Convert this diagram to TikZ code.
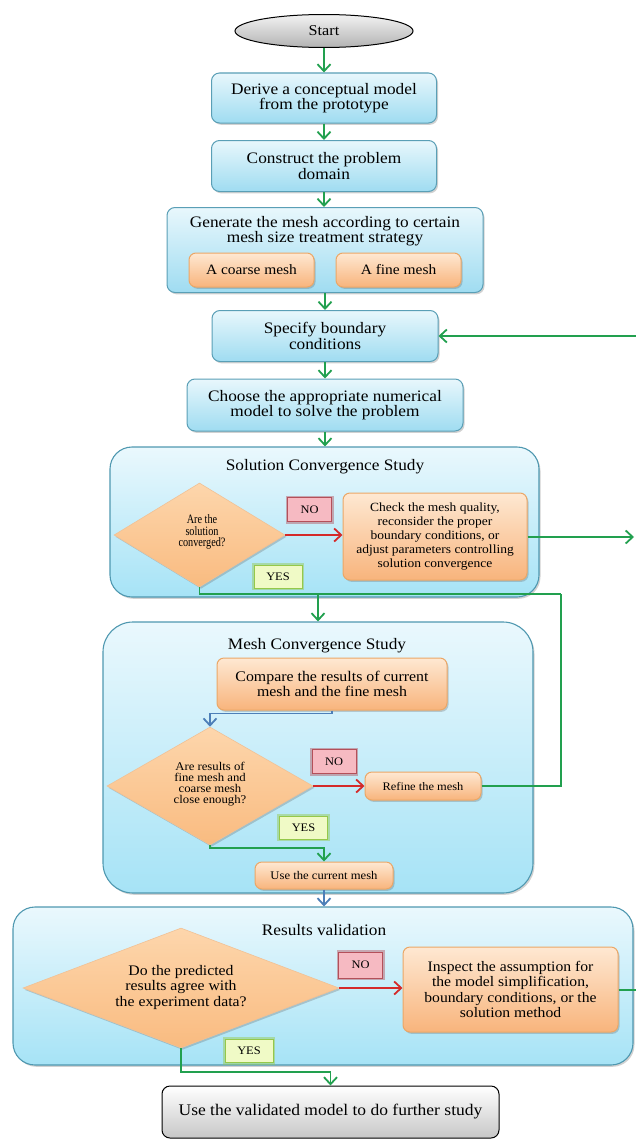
\documentclass[tikz,border=0pt]{standalone}
\usepackage{fontspec}
\setmainfont{Liberation Serif}[FakeStretch=1.08]
\newfontfamily\narrowserif{Liberation Serif}[FakeStretch=0.8]
\usetikzlibrary{shapes.geometric,arrows.meta,shadows}

\definecolor{boxTop}{HTML}{E8F7FC}
\definecolor{boxBot}{HTML}{9FDCF1}
\definecolor{boxEdge}{HTML}{5A9FB6}
\definecolor{grpTop}{HTML}{EAF8FD}
\definecolor{grpBot}{HTML}{A6E3F6}
\definecolor{grpEdge}{HTML}{4F98B0}
\definecolor{orTop}{HTML}{FEE8D2}
\definecolor{orBot}{HTML}{F8B47C}
\definecolor{orEdge}{HTML}{EBA767}
\definecolor{diaTop}{HTML}{FDD6AC}
\definecolor{diaBot}{HTML}{F9BB80}
\definecolor{noFill}{HTML}{F6BAC2}
\definecolor{noEdge}{HTML}{B4505A}
\definecolor{yesFill}{HTML}{F0FAC6}
\definecolor{yesEdge}{HTML}{95C84A}
\definecolor{flowGreen}{HTML}{22A04F}
\definecolor{flowRed}{HTML}{D42A2A}
\definecolor{flowBlue}{HTML}{4D7FB8}

\tikzset{
  shade/.style={drop shadow={shadow xshift=1.5pt,shadow yshift=-1.8pt,opacity=0.3,fill=black!60}},
  bluebox/.style={shade,draw=boxEdge,line width=1pt,rounded corners=8pt,
    top color=boxTop,bottom color=boxBot,align=center,inner sep=0pt,
    font=\fontsize{16}{15.5}\selectfont},
  group/.style={shade,draw=grpEdge,line width=1.1pt,rounded corners=22pt,
    top color=grpTop,bottom color=grpBot,inner sep=0pt},
  orbox/.style={shade,draw=orEdge,line width=1pt,rounded corners=7pt,
    top color=orTop,bottom color=orBot,align=center,inner sep=0pt},
  decision/.style={diamond,shade,draw=orEdge!70,line width=0.6pt,
    top color=diaTop,bottom color=diaBot,inner sep=0pt},
  dtext/.style={align=center,inner sep=0pt},
  greybox/.style={draw=black,line width=1pt,top color=white,bottom color=black!22,
    inner sep=0pt,align=center},
  title/.style={font=\fontsize{16}{16}\selectfont,inner sep=0pt},
  nolabel/.style={preaction={draw=noEdge,line width=4pt,opacity=0.45},
    draw=noEdge,line width=1pt,fill=noFill,inner sep=0pt,
    minimum width=44pt,minimum height=24pt,font=\fontsize{11.5}{12}\selectfont},
  yeslabel/.style={preaction={draw=yesEdge,line width=4.5pt,opacity=0.45},
    draw=yesEdge,line width=1pt,fill=yesFill,inner sep=0pt,
    minimum width=48pt,minimum height=23pt,font=\fontsize{11.5}{12}\selectfont},
  tip/.style={-{Straight Barb[length=7pt,width=13pt]}},
  gflow/.style={draw=flowGreen,line width=1.8pt},
  rflow/.style={draw=flowRed,line width=1.8pt},
  bflow/.style={draw=flowBlue,line width=1.8pt},
}

\begin{document}
\begin{tikzpicture}[x=1pt,y=-1pt]
\useasboundingbox (0,0) rectangle (636,1140);

% ---------- upper chain of steps ----------
\node[ellipse,draw=black,line width=1pt,top color=black!5,bottom color=black!30,
  minimum width=178pt,minimum height=33pt,inner sep=0pt,
  font=\fontsize{15}{15}\selectfont] (start) at (324,31) {Start};

\node[bluebox,minimum width=225pt,minimum height=50pt] (derive) at (324,98)
  {Derive a conceptual model\\from the prototype};
\node[bluebox,minimum width=225pt,minimum height=51pt] (domain) at (324,166)
  {Construct the problem\\domain};

\node[bluebox,minimum width=316pt,minimum height=85pt] (mesh) at (325,250) {};
\node[font=\fontsize{16}{15.5}\selectfont,align=center,inner sep=0pt] (meshtxt) at (325,231)
  {Generate the mesh according to certain\\mesh size treatment strategy};
\node[orbox,minimum width=125pt,minimum height=34pt,font=\fontsize{14.3}{15}\selectfont]
  (coarse) at (251.5,270) {A coarse mesh};
\node[orbox,minimum width=125pt,minimum height=34pt,font=\fontsize{14.3}{15}\selectfont]
  (fine) at (398.5,270) {A fine mesh};

\node[bluebox,minimum width=226pt,minimum height=51pt] (bc) at (325,336)
  {Specify boundary\\conditions};
\node[bluebox,minimum width=276pt,minimum height=52pt] (model) at (325,405)
  {Choose the appropriate numerical\\model to solve the problem};

% ---------- solution convergence study ----------
\node[group,minimum width=429pt,minimum height=150pt] (solgrp) at (324.5,522) {};
\node[title] (soltitle) at (325,467) {Solution Convergence Study};
\node[decision,minimum width=171pt,minimum height=104pt] (conv) at (199.5,535) {};
\node[dtext,font=\narrowserif\fontsize{12.8}{11.5}\selectfont] (convtxt) at (202,532)
  {Are the\\solution\\converged?};
\node[orbox,minimum width=184pt,minimum height=87pt,font=\fontsize{12.5}{14}\selectfont]
  (check) at (435,536.5)
  {Check the mesh quality,\\reconsider the proper\\boundary conditions, or\\adjust parameters controlling\\solution convergence};
\node[nolabel] (no1) at (309.5,509.5) {NO};
\node[yeslabel] (yes1) at (278,576.5) {YES};

% ---------- mesh convergence study ----------
\node[group,rounded corners=30pt,minimum width=430pt,minimum height=271pt] (meshgrp) at (318,757.5) {};
\node[title] (meshtitle) at (317,646) {Mesh Convergence Study};
\node[orbox,minimum width=230pt,minimum height=52pt,font=\fontsize{14.7}{15}\selectfont]
  (compare) at (332,684) {Compare the results of current\\mesh and the fine mesh};
\node[decision,minimum width=206pt,minimum height=118pt] (close) at (210,786) {};
\node[dtext,font=\fontsize{11.8}{11}\selectfont] (closetxt) at (210,784)
  {Are results of\\fine mesh and\\coarse mesh\\close enough?};
\node[orbox,minimum width=116pt,minimum height=28pt,font=\fontsize{11.5}{12}\selectfont]
  (refine) at (423,786) {Refine the mesh};
\node[orbox,minimum width=138pt,minimum height=27pt,font=\fontsize{11.7}{12}\selectfont]
  (usecur) at (324,875.5) {Use the current mesh};
\node[nolabel] (no2) at (334,761.5) {NO};
\node[yeslabel] (yes2) at (303.5,827.5) {YES};

% ---------- results validation ----------
\node[group,minimum width=620pt,minimum height=158pt] (valgrp) at (323,986) {};
\node[title] (valtitle) at (324,930) {Results validation};
\node[decision,minimum width=316pt,minimum height=120pt] (agree) at (181,988) {};
\node[dtext,font=\fontsize{14.6}{15.5}\selectfont] (agreetxt) at (181,987)
  {Do the predicted\\results agree with\\the experiment data?};
\node[orbox,minimum width=215pt,minimum height=85pt,font=\fontsize{14.5}{15.5}\selectfont]
  (inspect) at (510.5,989.5)
  {Inspect the assumption for\\the model simplification,\\boundary conditions, or the\\solution method};
\node[nolabel,minimum height=26pt] (no3) at (360.5,965) {NO};
\node[yeslabel] (yes3) at (249,1051) {YES};

\node[greybox,rounded corners=8pt,minimum width=337pt,minimum height=52pt,
  font=\fontsize{16.2}{16}\selectfont] (final) at (330.5,1112)
  {Use the validated model to do further study};

% ---------- loose ends and junctions ----------
\coordinate (bcin)   at (636,336);
\coordinate (checkout) at (634,537);
\coordinate (inspout)  at (636,990);
\coordinate (loopR)  at (561,594);
\coordinate (loopM)  at (318,594);

% ---------- connectors ----------
\draw[gflow,tip] (start.south) -- (start.south |- derive.north);
\draw[gflow,tip] (derive.south) -- (derive.south |- domain.north);
\draw[gflow,tip] (domain.south) -- (domain.south |- mesh.north);
\draw[gflow,tip] (mesh.south) -- (mesh.south |- bc.north);
\draw[gflow,tip] (bc.south) -- (bc.south |- model.north);
\draw[gflow,tip] (model.south) -- (model.south |- solgrp.north);
\draw[gflow,tip] (bcin) -- (bc.east);

\draw[rflow,tip] (conv.east) -- (check.west |- conv.east);
\draw[gflow,tip] (check.east |- checkout) -- (checkout);
\draw[gflow] (conv.south) |- (loopR);
\draw[gflow] (refine.east) -| (loopR);
\draw[gflow,tip] (loopM) -- (meshgrp.north);

\draw[bflow,tip] (compare.south) -- ++(0,3) -| (close.north);
\draw[rflow,tip] (close.east) -- (refine.west);
\draw[gflow,tip] (close.south) -- ++(0,3) -| (usecur.north);
\draw[bflow,tip] (usecur.south) -- (usecur.south |- valgrp.north);

\draw[rflow,tip] (agree.east) -- (inspect.west |- agree.east);
\draw[gflow] (inspect.east |- inspout) -- (inspout);
\draw[gflow,tip] (agree.south) -- ++(0,24) -| (final.north);
\end{tikzpicture}
\end{document}
